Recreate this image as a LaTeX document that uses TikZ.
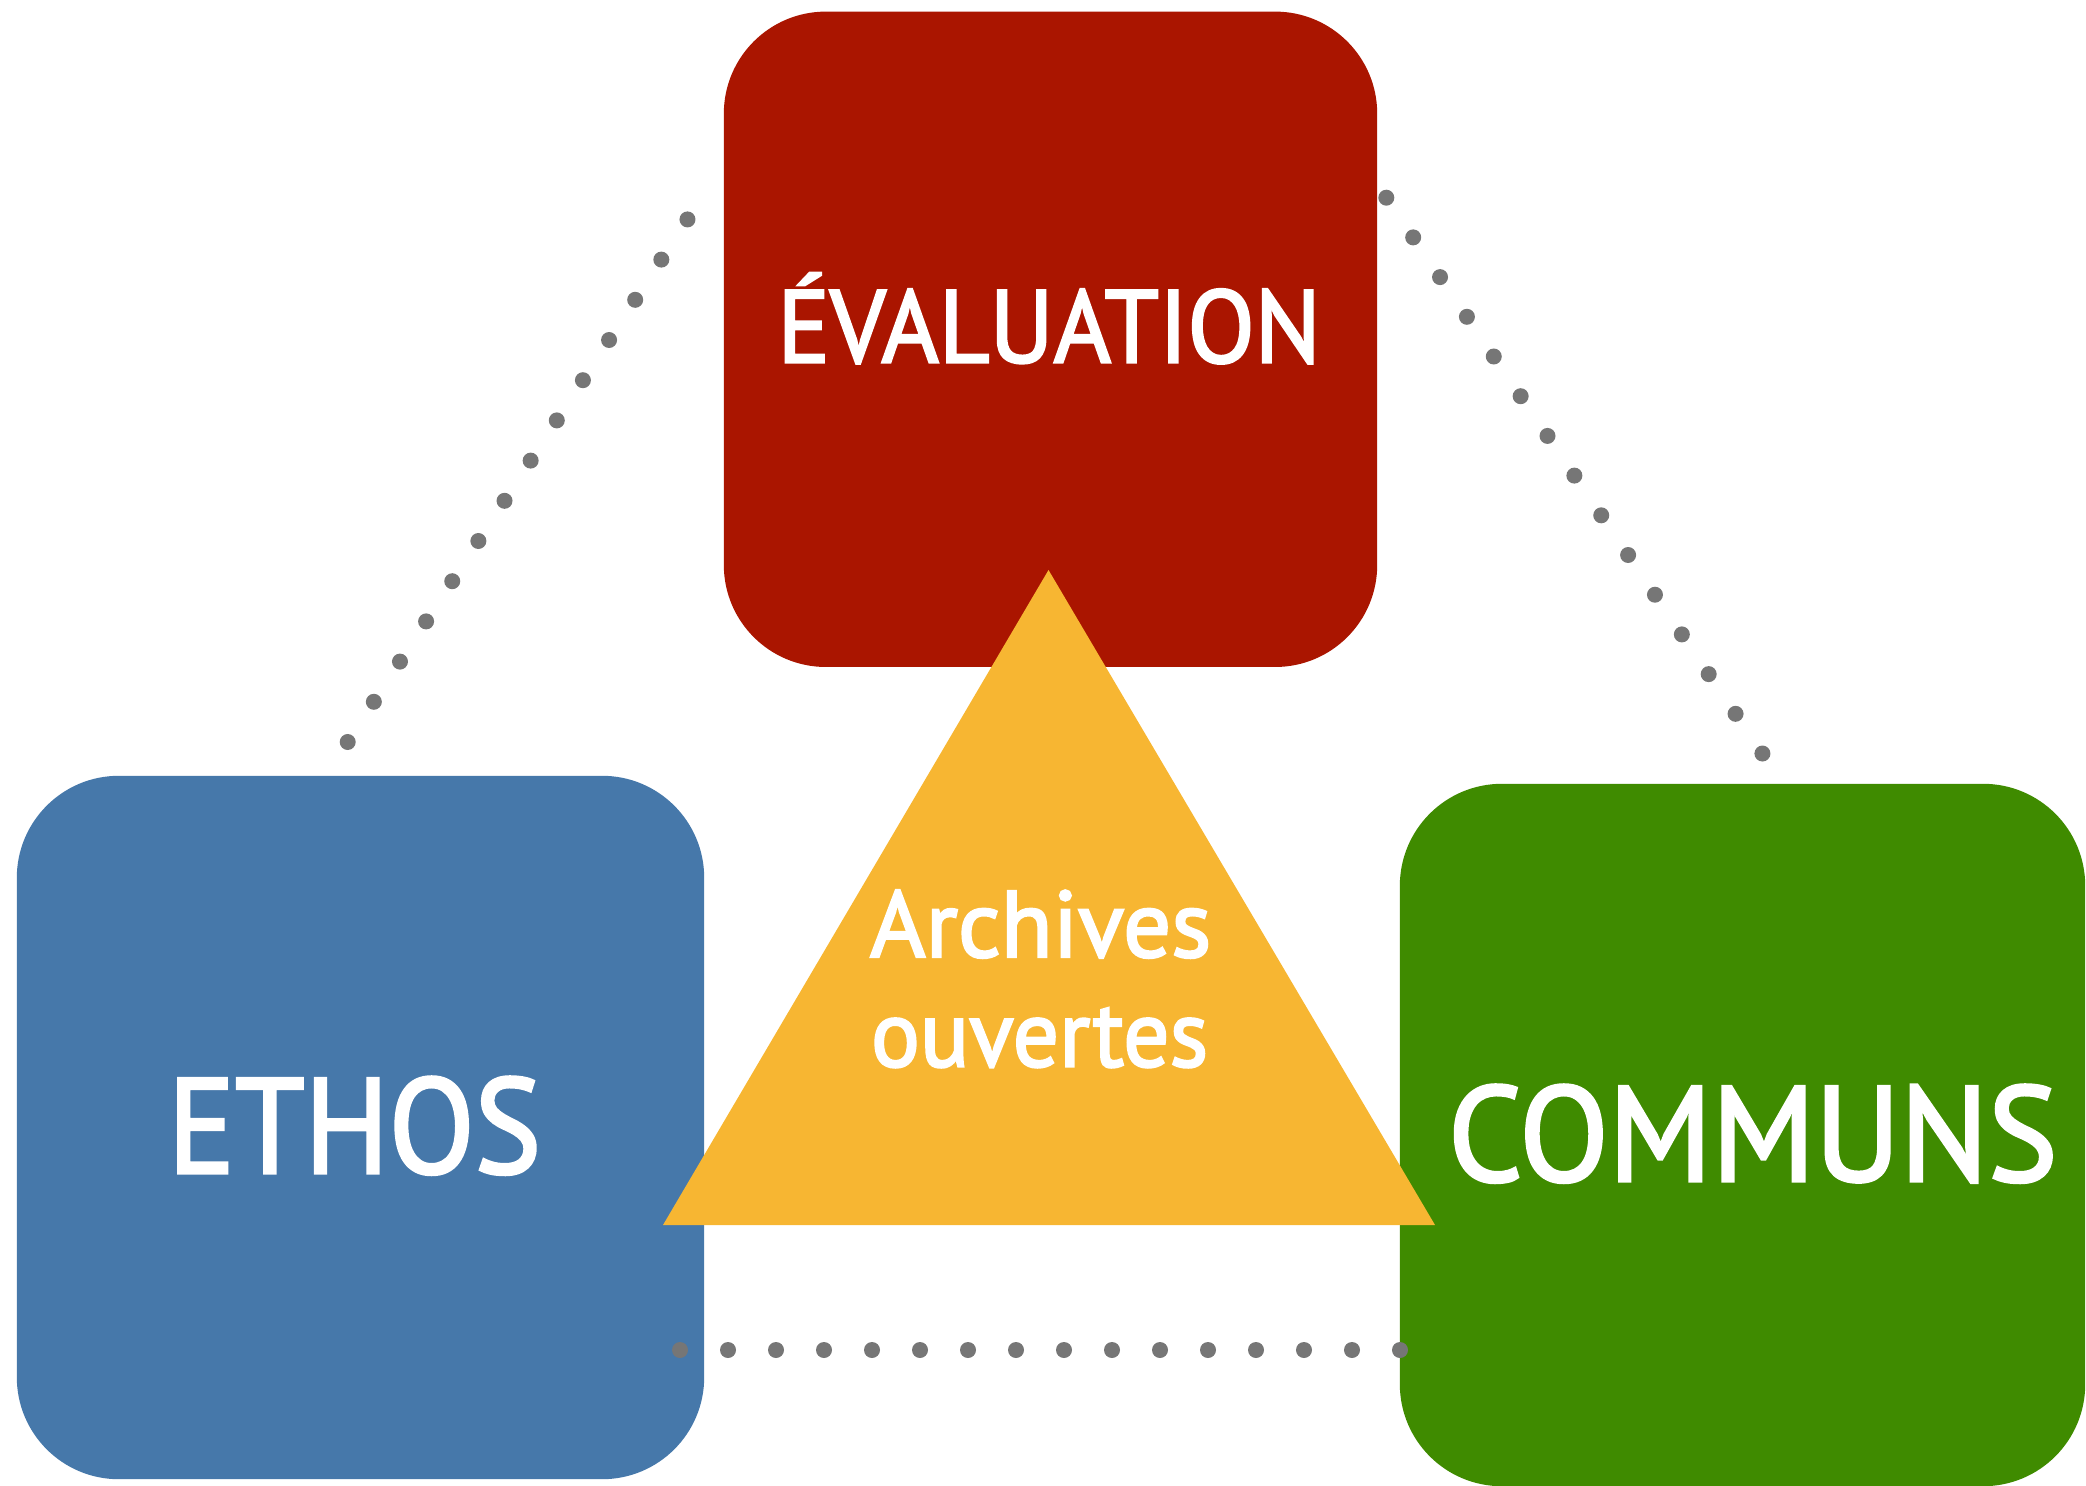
\documentclass[tikz,border=0pt]{standalone}
\usepackage{fontspec}
\setmainfont{PT Sans}[FakeBold=2.4]
\usetikzlibrary{calc}
\definecolor{evalred}{HTML}{AA1500}
\definecolor{ethosblue}{HTML}{4678AA}
\definecolor{communsgreen}{HTML}{3F8B00}
\definecolor{archyellow}{HTML}{F7B632}
\definecolor{dotgray}{HTML}{767676}
\begin{document}
\begin{tikzpicture}[x=0.01cm,y=-0.01cm,
  boxshape/.style={inner sep=0pt, outer sep=0pt, draw=none, rectangle, rounded corners=1.02cm},
  lbl/.style={text=white, inner sep=0pt, outer sep=0pt, anchor=base},
  dotline/.style={draw=dotgray, line width=0.16cm, line cap=round, dash pattern=on 0pt off #1},
]
\useasboundingbox (0,0) rectangle (2086,1486);
% boxes
\node[boxshape, fill=evalred, minimum width=6.53cm, minimum height=6.55cm] (eval) at (1050.5,339.3) {};
\node[boxshape, fill=ethosblue, minimum width=6.87cm, minimum height=7.03cm] (ethos) at (360.5,1127.5) {};
\node[boxshape, fill=communsgreen, minimum width=6.85cm, minimum height=7.02cm] (communs) at (1742.5,1135) {};
% triangle
\coordinate (apex) at (1048.5,570);
\coordinate (baseL) at (663,1225);
\coordinate (baseR) at (1435,1225);
\fill[archyellow] (apex) -- (baseL) -- (baseR) -- cycle;
% labels
\node[lbl, font=\fontsize{29.3}{30}\selectfont] (evaltxt) at (1049,362.5) {\resizebox{5.43cm}{\height}{ÉVALUATION}};
\node[lbl, font=\fontsize{38.4}{40}\selectfont] (ethostxt) at (354.5,1173) {\resizebox{3.73cm}{\height}{ETHOS}};
\node[lbl, font=\fontsize{38.4}{40}\selectfont] (communstxt) at (1752.7,1181) {\resizebox{6.09cm}{\height}{COMMUNS}};
\node[lbl, font=\fontsize{26.8}{28}\selectfont] (arch1) at (1040.6,957) {\resizebox{3.41cm}{\height}{Archives}};
\node[lbl, font=\fontsize{26.8}{28}\selectfont] (arch2) at (1039.5,1066.5) {\resizebox{3.37cm}{\height}{ouvertes}};
% dotted connectors
\coordinate (ethosTop) at (347.7,742);
\coordinate (evalLeft) at (688,218.6);
\coordinate (evalRight) at (1386.3,197.7);
\coordinate (communsTop) at (1763,754.4);
\coordinate (ethosRight) at (680,1350);
\coordinate (communsLeft) at (1401,1350);
\draw[dotline=0.4792cm] (ethosTop) -- (evalLeft);
\draw[dotline=0.4791cm] (evalRight) -- (communsTop);
\draw[dotline=0.4797cm] (ethosRight) -- (communsLeft);
\end{tikzpicture}
\end{document}
